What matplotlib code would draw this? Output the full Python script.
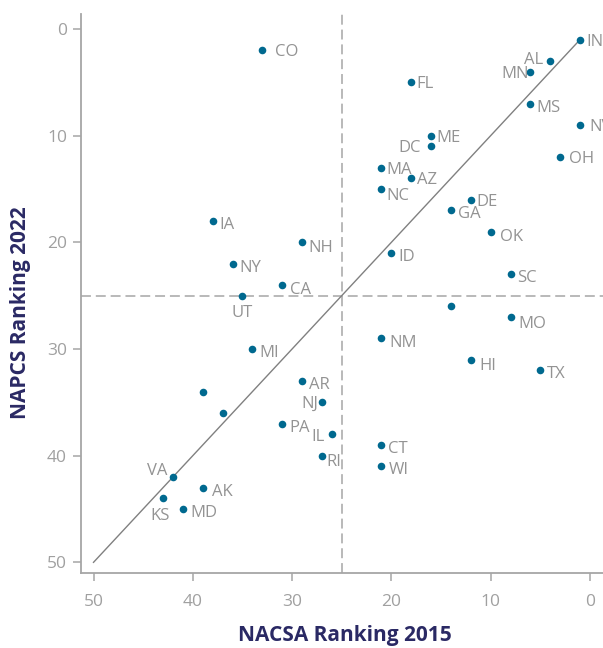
import matplotlib
matplotlib.use("Agg")
import matplotlib.pyplot as plt

# State rankings (lower = better). Blank label = dot drawn without a tag.
STATES = ["IN", "AL", "MN", "FL", "MS", "NV", "ME", "DC", "OH", "MA", "AZ",
          "NC", "DE", "GA", "OK", "NH", "ID", "SC", "CO", "IA", "NY", "CA",
          "UT", "", "MO", "NM", "HI", "TX", "AR", "NJ", "IL", "RI", "CT",
          "WI", "MI", "", "", "PA", "VA", "AK", "KS", "MD"]
NACSA_2015 = [1, 4, 6, 18, 6, 1, 16, 16, 3, 21, 18,
              21, 12, 14, 10, 29, 20, 8, 33, 38, 36, 31,
              35, 14, 8, 21, 12, 5, 29, 27, 26, 27, 21,
              21, 34, 39, 37, 31, 42, 39, 43, 41]
NAPCS_2022 = [1, 3, 4, 5, 7, 9, 10, 11, 12, 13, 14,
              15, 16, 17, 19, 20, 21, 23, 2, 18, 22, 24,
              25, 26, 27, 29, 31, 32, 33, 35, 38, 40, 39,
              41, 30, 34, 36, 37, 42, 43, 44, 45]
DIAGONAL = [50, 1]      # equal-rank reference line end points
MIDPOINT = 25           # quadrant split
XTICKS = [50, 40, 30, 20, 10, 0]
YTICKS = [0, 10, 20, 30, 40, 50]

# label placement (px): horizontal gap, drop of label centre below dot, anchor
DEFAULT_NUDGE = (7, 2, "left")
NUDGE = {
    "CO": (13, 0, "left"), "IN": (6, 0, "left"), "FL": (5, 0, "left"),
    "ME": (5, 0, "left"), "OH": (9, 0, "left"), "NV": (9, 0, "left"),
    "MA": (5, 0, "left"), "AZ": (6, 0, "left"), "NC": (5, 5, "left"),
    "DE": (6, 0, "left"), "NH": (6, 4, "left"), "MO": (8, 5, "left"),
    "HI": (9, 4, "left"), "NM": (8, 3, "left"), "RI": (4, 4, "left"),
    "CA": (8, 3, "left"), "OK": (9, 3, "left"), "AK": (9, 2, "left"),
    "MS": (6, 2, "left"),
    "AL": (-7, -3, "right"), "MN": (-2, 0, "right"), "DC": (-10, 0, "right"),
    "VA": (-6, -8, "right"), "NJ": (-4, 0, "right"), "IL": (-7, 1, "right"),
    "UT": (0, 15, "center"), "KS": (-3, 16, "center"),
}

DOT = "#00698f"
GREY = "#a6a6a6"
LABEL_GREY = "#939393"
NAVY = "#2a2964"
PX = 0.72  # points per pixel at dpi 100

plt.rcParams["font.family"] = ["Open Sans", "DejaVu Sans"]

fig = plt.figure(figsize=(6.03, 6.48), dpi=100)
ax = fig.add_axes([81 / 603, 1 - 573 / 648, (603 - 81) / 603, (573 - 14) / 648])

ax.axvline(MIDPOINT, color=GREY, lw=1.1, dashes=(6.5, 3.2), zorder=1)
ax.axhline(MIDPOINT, color=GREY, lw=1.1, dashes=(6.5, 3.2), zorder=1)
ax.plot(DIAGONAL, DIAGONAL, color="#808080", lw=1.0, zorder=2)
ax.scatter(NACSA_2015, NAPCS_2022, s=30, color=DOT, linewidths=0, zorder=3)

for name, x, y in zip(STATES, NACSA_2015, NAPCS_2022):
    if not name:
        continue
    dx, drop, ha = NUDGE.get(name, DEFAULT_NUDGE)
    ax.annotate(name, (x, y), xytext=(dx * PX, -(drop + 6) * PX),
                textcoords="offset points", ha=ha, va="baseline",
                fontsize=12, color=LABEL_GREY, zorder=4, annotation_clip=False)

ax.set_xlim(51.26, -1.31)
ax.set_ylim(51.0, -1.4)
ax.set_xticks(XTICKS)
ax.set_yticks(YTICKS)

for side in ("top", "right"):
    ax.spines[side].set_visible(False)
for side in ("left", "bottom"):
    ax.spines[side].set_color(GREY)
    ax.spines[side].set_linewidth(1.3)
ax.tick_params(axis="both", colors=GREY, length=6, width=1.1,
               labelsize=12.5, labelcolor="#a0a0a0")
ax.tick_params(axis="x", pad=9)
ax.tick_params(axis="y", pad=4)

fig.text(345 / 603, 1 - 635 / 648, "NACSA Ranking 2015", ha="center",
         va="center", fontsize=15, fontweight="bold", color=NAVY)
fig.text(21 / 603, 1 - 313 / 648, "NAPCS Ranking 2022", ha="center",
         va="center", rotation=90, fontsize=15, fontweight="bold", color=NAVY)

fig.savefig("out.png", dpi=100)
